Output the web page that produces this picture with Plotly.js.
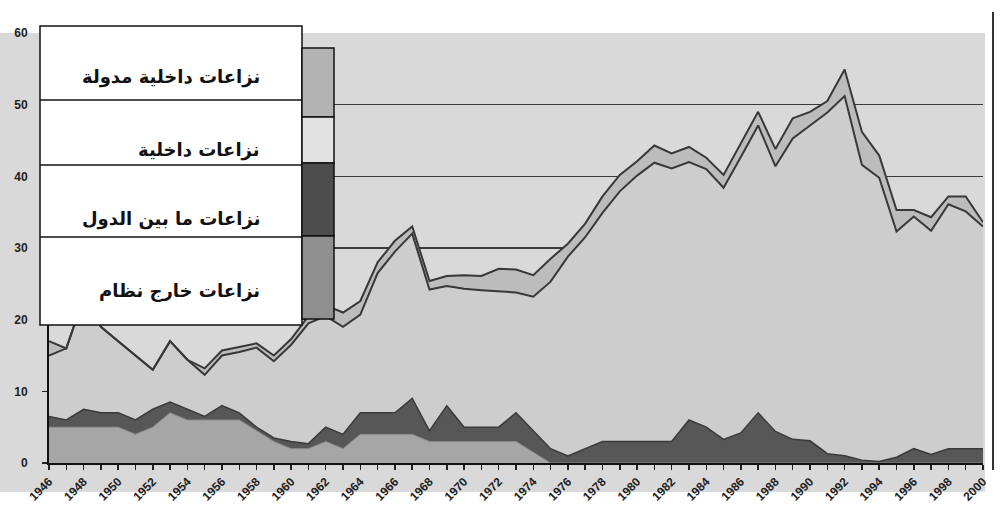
<!DOCTYPE html>
<html><head><meta charset="utf-8">
<script src="https://cdn.plot.ly/plotly-3.0.1.min.js"></script>
<style>html,body{margin:0;padding:0;background:#fff}
#wrap{position:relative;width:1003px;height:518px}
#bg{position:absolute;left:0;top:33px;width:985px;height:459px;background:#d9d9d9}
#chart{position:absolute;left:0;top:0;width:1003px;height:518px}</style>
</head><body><div id="wrap"><div id="bg"></div><div id="chart"></div></div>
<script>
const years = [1946,1947,1948,1949,1950,1951,1952,1953,1954,1955,1956,1957,1958,1959,1960,
  1961,1962,1963,1964,1965,1966,1967,1968,1969,1970,1971,1972,1973,1974,1975,1976,1977,1978,
  1979,1980,1981,1982,1983,1984,1985,1986,1987,1988,1989,1990,1991,1992,1993,1994,1995,1996,
  1997,1998,1999,2000];
const extrasystemic = [5,5,5,5,5,4,5,7,6,6,6,6,4.5,3,2,2,3,2,4,4,4,4,3,3,3,3,3,3,1.5,
  0,0,0,0,0,0,0,0,0,0,0,0,0,0,0,0,0,0,0,0,0,0,0,0,0,0];
const interstate = [1.5,1,2.5,2,2,2,2.5,1.5,1.5,0.5,2,1,0.5,0.5,1,0.7,2,2,3,3,3,5,1.5,5,2,2,2,4,3,
  2,1,2,3,3,3,3,3,6,5,3.3,4.2,7,4.4,3.3,3.1,1.3,1,0.4,0.2,0.8,2,1.2,2,2,2];
const internal = [8.5,10,15.5,12,10,9,5.5,8.5,6.9,5.8,7,8.5,11.1,10.7,13.5,16.8,15.5,15,13.7,19.5,
  22.5,23,19.7,16.7,19.3,19.1,19,16.8,18.7,23.3,27.8,29.5,31.9,34.9,37.1,38.9,38.1,36,36,35.1,
  38.5,40.1,37,42,44,47.6,50.2,41.2,39.6,31.5,32.4,31.2,34.1,33.1,31];
const internationalized = [2,0,0,0,0,0,0,0,0,0.9,0.7,0.7,0.6,0.8,0.8,1,1.5,2,1.9,1.5,1.5,1,1.2,1.4,
  1.9,2,3.1,3.2,3,3.2,1.8,1.9,2.3,2.3,2,2.4,2.1,2.1,1.6,1.8,1.9,1.9,2.4,2.8,1.9,1.6,3.7,4.6,3.1,
  3,0.9,1.9,1.1,2.1,0.6];
const seriesNames = ['نزاعات خارج نظام','نزاعات ما بين الدول','نزاعات داخلية','نزاعات داخلية مدولة'];
const yTicks = [0,10,20,30,40,50,60];
const xTickText = years.map(function(y){return y % 2 === 0 ? String(y) : '';});

const L = 49, R = 983, T = 33, B = 463;
function px(x){ return (x - L) / (R - L); }
function py(y){ return (B - y) / (B - T); }

const fills = ['#a6a6a6', '#575757', '#cdcdcd', '#bcbcbc'];
const lines = [{color:'#8a8a8a', width:1}, {color:'#3a3a3a', width:1.5},
               {color:'#383838', width:2}, {color:'#383838', width:2}];
const vals = [extrasystemic, interstate, internal, internationalized];
const traces = vals.map(function(v, i){
  return {x: years, y: v, type:'scatter', mode:'lines', stackgroup:'s',
    name: seriesNames[i], fillcolor: fills[i], line: lines[i], hoverinfo:'skip'};
});

const shapes = [
  {type:'line', xref:'paper', yref:'paper', x0:px(993), x1:px(993), y0:py(470), y1:py(12),
   line:{color:'#333', width:2}},
  {type:'rect', xref:'paper', yref:'paper', x0:px(40), x1:px(302), y0:py(325), y1:py(26),
   fillcolor:'#ffffff', line:{color:'#111', width:1.5}},
  {type:'line', xref:'paper', yref:'paper', x0:px(40), x1:px(302), y0:py(100), y1:py(100), line:{color:'#111', width:1.5}},
  {type:'line', xref:'paper', yref:'paper', x0:px(40), x1:px(302), y0:py(165), y1:py(165), line:{color:'#111', width:1.5}},
  {type:'line', xref:'paper', yref:'paper', x0:px(40), x1:px(302), y0:py(237), y1:py(237), line:{color:'#111', width:1.5}}
];
const sw = [[48,117,'#b3b3b3'],[117,163,'#e2e2e2'],[163,236,'#4d4d4d'],[236,319,'#8f8f8f']];
sw.forEach(function(s){
  shapes.push({type:'rect', xref:'paper', yref:'paper', x0:px(302), x1:px(334), y0:py(s[1]), y1:py(s[0]),
    fillcolor:s[2], line:{color:'#111', width:1.5}});
});
const legendRows = [[77, seriesNames[3]],[150, seriesNames[2]],[219, seriesNames[1]],[291, seriesNames[0]]];
const annotations = legendRows.map(function(r){
  return {xref:'paper', yref:'paper', x:px(262), y:py(r[0]), xanchor:'right', yanchor:'middle',
    text:r[1], showarrow:false, font:{family:'DejaVu Sans', size:18, color:'#111', weight:'bold'}};
});

const layout = {
  width:1003, height:518, margin:{l:L, r:1003-R, t:T, b:518-B},
  paper_bgcolor:'rgba(0,0,0,0)', plot_bgcolor:'#d9d9d9', showlegend:false,
  xaxis:{range:[1946,2000], tickmode:'array', tickvals:years, ticktext:xTickText, tickangle:-45,
    ticks:'outside', ticklen:5, tickwidth:1.5, tickcolor:'#222', showline:true, linecolor:'#111', linewidth:2,
    showgrid:false, zeroline:false, fixedrange:true,
    tickfont:{family:'Liberation Sans', size:12, color:'#222', weight:'bold'}},
  yaxis:{range:[0,60], tickmode:'array', tickvals:yTicks, ticks:'outside', ticklen:5, tickwidth:1.5,
    tickcolor:'#222', showline:true, linecolor:'#111', linewidth:2, showgrid:true, gridcolor:'#3a3a3a',
    gridwidth:1.5, zeroline:false, fixedrange:true, ticklabelstandoff:12,
    tickfont:{family:'Liberation Sans', size:12, color:'#222', weight:'bold'}},
  shapes:shapes, annotations:annotations
};
Plotly.newPlot('chart', traces, layout, {displayModeBar:false, staticPlot:true});
</script></body></html>
